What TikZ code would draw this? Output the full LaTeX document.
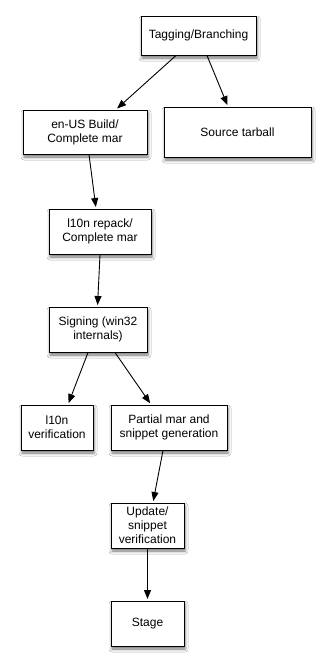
\documentclass[tikz,border=0pt]{standalone}
\usepackage{fontspec}
\setmainfont{Liberation Sans}
\usetikzlibrary{arrows.meta,shadows.blur}
\begin{document}
\begin{tikzpicture}[x=1pt,y=-1pt,
  box/.style={draw=black, line width=1pt, fill=white, align=center, inner sep=0pt,
    font=\fontsize{12}{14}\selectfont,
    blur shadow={shadow xshift=1pt, shadow yshift=-3pt, shadow blur radius=3pt, shadow opacity=55}},
  arr/.style={line width=0.9pt, -{Stealth[length=9pt,width=7pt,inset=0pt]}, shorten >=1.5pt}]
\useasboundingbox (0,0) rectangle (332,670);
\fill[white] (0,0) rectangle (332,670);
\node[box, minimum width=115pt, minimum height=39pt] (tag) at (198.5,35.5) {Tagging/Branching};
\node[box, minimum width=124pt, minimum height=44pt] (enus) at (85,132) {en-US Build/\\Complete mar};
\node[box, minimum width=147pt, minimum height=50pt] (src) at (237.5,132) {Source tarball};
\node[box, minimum width=102pt, minimum height=45pt] (repack) at (100,231.5) {l10n repack/\\Complete mar};
\node[box, minimum width=98pt, minimum height=45pt] (sign) at (98,329.5) {Signing (win32\\internals)};
\node[box, minimum width=72pt, minimum height=45pt] (lv) at (57,427.5) {l10n\\verification};
\node[box, minimum width=116pt, minimum height=45pt] (partial) at (169,427.5) {Partial mar and\\snippet generation};
\node[box, minimum width=73pt, minimum height=45pt] (update) at (147.5,525.5) {Update/\\snippet\\verification};
\node[box, minimum width=73pt, minimum height=45pt] (stage) at (147.5,623.5) {Stage};
\draw[arr] ([xshift=-22.5pt]tag.south) -- ([xshift=31pt]enus.north);
\draw[arr] ([xshift=8.5pt]tag.south) -- ([xshift=-9.5pt]src.north);
\draw[arr] ([xshift=4pt]enus.south) -- ([xshift=-4pt]repack.north);
\draw[arr] ([xshift=0pt]repack.south) -- ([xshift=-0.5pt]sign.north);
\draw[arr] ([xshift=-10pt]sign.south) -- ([xshift=11pt]lv.north);
\draw[arr] ([xshift=17pt]sign.south) -- ([xshift=-18pt]partial.north);
\draw[arr] ([xshift=-6pt]partial.south) -- ([xshift=5.5pt]update.north);
\draw[arr] (update.south) -- (stage.north);
\end{tikzpicture}
\end{document}
